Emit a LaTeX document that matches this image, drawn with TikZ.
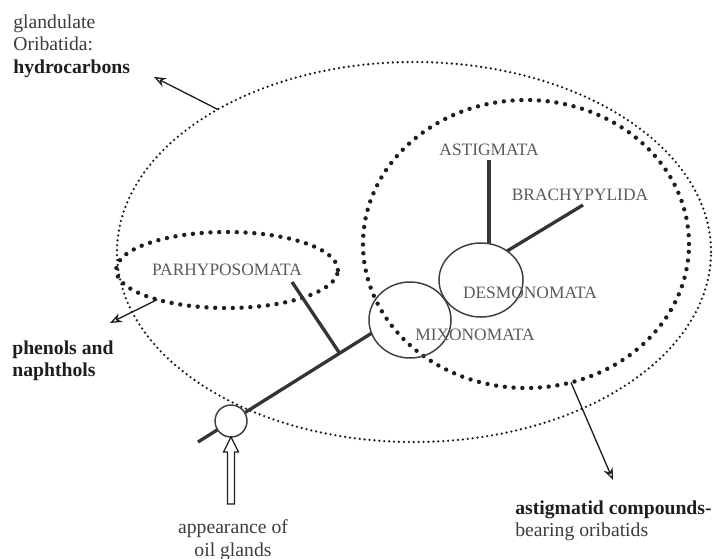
\documentclass[tikz,border=0pt]{standalone}
\usepackage{fontspec}
\setmainfont{Liberation Serif}
\usetikzlibrary{arrows.meta,calc,shapes.geometric}
\definecolor{ink}{HTML}{1E1E1E}
\definecolor{soft}{HTML}{3C3C3C}
\definecolor{muted}{HTML}{5A5A5A}
\tikzset{
  finedots/.style={draw=ink,ellipse,outer sep=0pt,line width=1.45pt,line cap=round,dash pattern=on 0pt off 2.8pt},
  bolddots/.style={draw=ink,ellipse,outer sep=0pt,line width=2.5pt,line cap=round,dash pattern=on 0pt off 5pt},
  ring/.style={draw=ink!85,ellipse,inner sep=0pt,outer sep=0pt,line width=.85pt},
  branch/.style={draw=ink!90,line width=1.9pt},
  pointer/.style={-{Stealth[length=2.4mm,width=1.9mm,open]},draw=ink,line width=.75pt},
  hollow/.style={draw=ink,fill=white,line width=.75pt,line join=miter},
  clade/.style={font=\fontsize{9.9}{11}\selectfont,text=muted,inner sep=2pt},
  caption/.style={font=\fontsize{11.2}{13}\selectfont,text=soft,align=left,inner sep=0pt},
}
\begin{document}
\begin{tikzpicture}[x=1cm,y=1cm]
  \useasboundingbox (0,0) rectangle (14.32,11.16);
  % the nested groups: all glandulate Oribatida, then the astigmatid-compound bearers
  \node[finedots,minimum width=11.88cm,minimum height=7.6cm] (outer) at (8.28,6.12) {};
  \node[bolddots,minimum width=6.52cm,minimum height=5.76cm] (inner) at (10.52,6.28) {};
  \node[bolddots,clade,minimum width=4.0cm,minimum height=1.52cm] (parhypo) at (4.54,5.76) {PARHYPOSOMATA};

  % the tree
  \node[ring,minimum width=1.64cm,minimum height=1.52cm] (mixo) at (8.20,4.76) {};
  \node[ring,minimum width=1.68cm,minimum height=1.48cm] (desmo) at (9.62,5.56) {};
  \coordinate (root) at (3.96,2.32);
  \coordinate (parhypotip) at (5.84,5.52);
  \draw[branch] (root) -- (mixo.199);
  \draw[branch] ($(root)!.816!(mixo.199)$) -- (parhypotip);
  \node[ring,fill=white,minimum size=.64cm] (glands) at (4.62,2.74) {};
  \node[clade] (astig) at (9.78,8.16) {ASTIGMATA};
  \draw[branch] (astig.south) -- (astig.south |- desmo.north);
  \node[clade] (brachy) at (11.60,7.26) {BRACHYPYLIDA};
  \coordinate (brachytip) at (11.66,7.06);
  \draw[branch] (desmo.48) -- (brachytip);
  \node[clade] (desmolbl) at (10.60,5.30) {DESMONOMATA};
  \node[clade] (mixolbl) at (9.50,4.46) {MIXONOMATA};

  % oil glands appear at the base
  \draw[hollow] (glands.south) -- ++(-.15,-.30) -- ++(.08,0) -- ++(0,-1.04) -- ++(.14,0) -- ++(0,1.04) -- ++(.08,0) -- cycle;
  \node[caption,align=center,anchor=north] (oil) at (4.66,.78) {appearance of\\oil glands};

  % compounds of each group
  \node[caption,anchor=north west] (gland) at (.26,10.88) {glandulate\\Oribatida:\\\textcolor{ink}{\bfseries hydrocarbons}};
  \node[caption,anchor=north west,text=ink] (phenol) at (.24,4.36) {\bfseries phenols and\\\bfseries naphthols};
  \node[caption,anchor=north west] (astigcomp) at (10.30,1.16) {\textcolor{ink}{\bfseries astigmatid compounds-}\\bearing oribatids};
  \coordinate (hydrotip) at (3.08,9.62);
  \coordinate (phenoltip) at (2.20,4.70);
  \coordinate (astigtip) at (12.26,1.56);
  \draw[pointer] (outer.144) -- (hydrotip);
  \draw[pointer] (parhypo.203) -- (phenoltip);
  \draw[pointer] (inner.-72) -- (astigtip);
\end{tikzpicture}
\end{document}
